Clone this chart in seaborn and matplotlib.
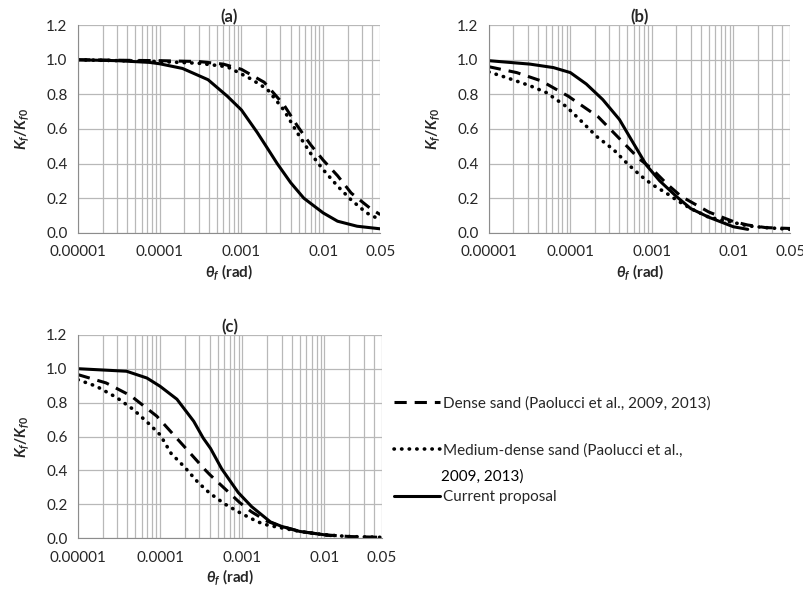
import numpy as np
import pandas as pd
import matplotlib
matplotlib.use("Agg")
import matplotlib.pyplot as plt
import seaborn as sns
from matplotlib.ticker import FixedLocator, LogLocator, NullFormatter

# ---- data ----
# panel (a)
a_dense_x = [1e-5, 1e-4, 3e-4, 6e-4, 1e-3, 1.9e-3, 3.3e-3, 4.8e-3, 7e-3, 1e-2, 1.5e-2, 2.2e-2, 3.8e-2, 5e-2]
a_dense = [1.0, 0.995, 0.99, 0.975, 0.945, 0.87, 0.74, 0.62, 0.51, 0.42, 0.33, 0.23, 0.14, 0.105]
a_med_x = [1e-5, 1e-4, 3e-4, 6.7e-4, 1.3e-3, 2.07e-3, 3.3e-3, 4.8e-3, 7e-3, 1e-2, 1.5e-2, 2.2e-2, 3.4e-2, 5e-2]
a_medium = [1.0, 0.99, 0.98, 0.96, 0.89, 0.83, 0.71, 0.58, 0.46, 0.365, 0.27, 0.19, 0.115, 0.075]
a_cur_x = [1e-5, 3e-5, 7.5e-5, 1e-4, 1.9e-4, 3.9e-4, 6.7e-4, 1e-3, 1.56e-3, 2.07e-3, 2.74e-3,
           4e-3, 5.8e-3, 1e-2, 1.5e-2, 2.6e-2, 5e-2]
a_current = [1.0, 0.995, 0.985, 0.977, 0.95, 0.885, 0.79, 0.71, 0.58, 0.49, 0.40,
             0.29, 0.20, 0.115, 0.067, 0.038, 0.023]

# panel (b)
b_dense_x = [1e-5, 2.2e-5, 4.4e-5, 9.4e-5, 2.2e-4, 3.9e-4, 6.9e-4, 1e-3, 1.55e-3, 2.3e-3,
             5e-3, 1e-2, 1.5e-2, 2.5e-2, 5e-2]
b_dense = [0.96, 0.926, 0.878, 0.79, 0.67, 0.55, 0.43, 0.37, 0.28, 0.21,
           0.12, 0.065, 0.045, 0.03, 0.025]
b_med_x = [1e-5, 1.65e-5, 3.2e-5, 5.1e-5, 8.9e-5, 1.3e-4, 2.1e-4, 3.4e-4, 5e-4, 7.3e-4, 1e-3,
           1.5e-3, 2e-3, 3e-3, 5e-3, 1e-2, 1.5e-2, 2.5e-2, 5e-2]
b_medium = [0.93, 0.897, 0.85, 0.81, 0.73, 0.655, 0.557, 0.48, 0.40, 0.33, 0.28,
            0.23, 0.19, 0.14, 0.09, 0.06, 0.04, 0.03, 0.02]
b_cur_x = [1e-5, 3.2e-5, 6.2e-5, 1e-4, 1.57e-4, 2.5e-4, 4e-4, 5.9e-4, 8.6e-4, 1.25e-3, 2e-3,
           3e-3, 5e-3, 1e-2, 1.5e-2]
b_current = [0.995, 0.975, 0.955, 0.926, 0.86, 0.77, 0.655, 0.52, 0.39, 0.30, 0.21,
             0.14, 0.09, 0.035, 0.02]

# panel (c)
c_dense_x = [1e-5, 2.2e-5, 4.4e-5, 9.1e-5, 1.97e-4, 3.5e-4, 4e-4, 9.3e-4, 1.29e-3,
             2e-3, 3e-3, 5e-3, 1e-2, 2e-2, 5e-2]
c_dense = [0.965, 0.916, 0.84, 0.72, 0.54, 0.405, 0.376, 0.21, 0.156,
           0.10, 0.07, 0.04, 0.02, 0.01, 0.005]
c_med_x = [1e-5, 1.68e-5, 2.95e-5, 4.7e-5, 7.5e-5, 1e-4, 1.36e-4, 1.98e-4, 2.88e-4, 4e-4, 6.2e-4,
           9.7e-4, 1.55e-3, 2.07e-3, 5e-3, 1e-2, 2e-2, 5e-2]
c_medium = [0.935, 0.896, 0.83, 0.76, 0.67, 0.61, 0.50, 0.42, 0.33, 0.266, 0.20,
            0.146, 0.096, 0.076, 0.04, 0.02, 0.01, 0.005]
c_cur_x = [1e-5, 3.9e-5, 6.9e-5, 1e-4, 1.6e-4, 2.56e-4, 3.35e-4, 4.1e-4, 5.6e-4, 8.9e-4, 1.3e-3,
           2.2e-3, 3e-3, 5e-3, 1e-2, 1.2e-2]
c_current = [1.0, 0.985, 0.945, 0.896, 0.82, 0.69, 0.59, 0.53, 0.41, 0.27, 0.186,
             0.096, 0.07, 0.04, 0.02, 0.015]

xticks = [1e-5, 1e-4, 1e-3, 1e-2, 5e-2]
xtick_labels = ["0.00001", "0.0001", "0.001", "0.01", "0.05"]
yticks = [0.0, 0.2, 0.4, 0.6, 0.8, 1.0, 1.2]
labels = ["Dense sand (Paolucci et al., 2009, 2013)",
          "Medium-dense sand (Paolucci et al.,",
          "Current proposal"]

sns.set_style("white")
plt.rcParams["font.family"] = ["Lato", "DejaVu Sans"]
plt.rcParams["mathtext.fontset"] = "custom"
plt.rcParams["mathtext.rm"] = "Lato:bold"
plt.rcParams["mathtext.it"] = "Lato:bold:italic"
plt.rcParams["mathtext.bf"] = "Lato:bold"

fig = plt.figure(figsize=(8.04, 6.0), dpi=100)
ax_a = fig.add_axes([0.097, 0.612, 0.376, 0.346])
ax_b = fig.add_axes([0.608, 0.612, 0.375, 0.346])
ax_c = fig.add_axes([0.097, 0.103, 0.378, 0.339])

panels = [
    (ax_a, "(a)", a_dense_x, a_dense, a_med_x, a_medium, a_cur_x, a_current),
    (ax_b, "(b)", b_dense_x, b_dense, b_med_x, b_medium, b_cur_x, b_current),
    (ax_c, "(c)", c_dense_x, c_dense, c_med_x, c_medium, c_cur_x, c_current),
]

lw = 2.2
for ax, title, xd, yd, xm, ym, xc, yc in panels:
    sns.lineplot(x=xd, y=yd, ax=ax, color="black", lw=lw, label=labels[0],
                 linestyle=(0, (4, 2.6)))
    sns.lineplot(x=xm, y=ym, ax=ax, color="black", lw=2.6, label=labels[1],
                 linestyle=(0, (0.1, 2.0)), dash_capstyle="round")
    sns.lineplot(x=xc, y=yc, ax=ax, color="black", lw=lw, label=labels[2])
    ax.set_xscale("log")
    ax.set_xlim(1e-5, 5e-2)
    ax.set_ylim(0, 1.2)
    ax.xaxis.set_major_locator(FixedLocator(xticks))
    ax.set_xticklabels(xtick_labels)
    ax.xaxis.set_minor_locator(LogLocator(base=10, subs=np.arange(2, 10)))
    ax.xaxis.set_minor_formatter(NullFormatter())
    ax.set_yticks(yticks)
    ax.set_yticklabels([f"{v:.1f}" for v in yticks])
    ax.grid(True, which="both", axis="x", color="#b8b8b8", lw=0.9)
    ax.grid(True, which="major", axis="y", color="#b8b8b8", lw=0.9)
    ax.set_axisbelow(True)
    for s in ["top", "right"]:
        ax.spines[s].set_visible(False)
    for s in ["left", "bottom"]:
        ax.spines[s].set_color("#8c8c8c")
    ax.tick_params(axis="x", which="major", direction="inout", length=6,
                   color="#8c8c8c", labelsize=11, labelcolor="#262626", pad=6)
    ax.tick_params(axis="x", which="minor", length=0)
    ax.tick_params(axis="y", direction="out", length=4, color="#8c8c8c",
                   labelsize=11, labelcolor="#262626")
    ax.set_xlabel(r"$\theta_f$ (rad)", fontsize=11, fontweight="bold", labelpad=2)
    ax.set_ylabel(r"$K_f/K_{f0}$", fontsize=11, fontweight="bold", labelpad=11)
    ax.set_title(title, fontsize=12, fontweight="bold", pad=2)
    ax.get_legend().remove()

handles, _ = ax_c.get_legend_handles_labels()
fig.legend(handles, labels, loc="upper left", bbox_to_anchor=(0.483, 0.350),
           frameon=False, fontsize=11, handlelength=3.0, handletextpad=0.2,
           labelspacing=2.15, borderaxespad=0)
fig.text(0.548, 0.205, "2009, 2013)", fontsize=11, color="black", va="center")

fig.savefig("out.png", dpi=100)
